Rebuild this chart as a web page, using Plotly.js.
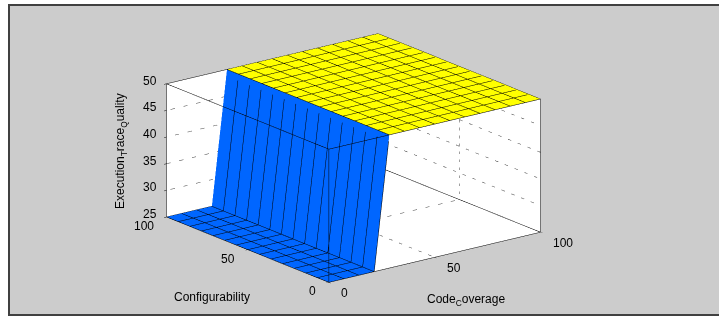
<!DOCTYPE html>
<html>
<head>
<meta charset="utf-8">
<script src="https://cdn.plot.ly/plotly-3.0.1.min.js"></script>
<style>
  html, body { margin: 0; padding: 0; background: #ffffff; width: 719px; height: 320px; overflow: hidden; }
  #frame { position: absolute; left: 8px; top: 4px; width: 711px; height: 312px;
           border-left: 2px solid #404040; border-top: 2px solid #404040; border-bottom: 2px solid #404040;
           box-sizing: border-box; background: #cccccc; }
  #chart { position: absolute; left: 0; top: 0; width: 719px; height: 320px; }
</style>
</head>
<body>
<div id="frame"></div>
<div id="chart"></div>
<script>
// Grid of the fuzzy surface (15 x 15 points, like MATLAB gensurf)
const codeCoverage = [0, 7.143, 14.286, 21.429, 28.571, 35.714, 42.857, 50, 57.143, 64.286, 71.429, 78.571, 85.714, 92.857, 100];
const configurability = [0, 7.143, 14.286, 21.429, 28.571, 35.714, 42.857, 50, 57.143, 64.286, 71.429, 78.571, 85.714, 92.857, 100];
// Execution_Trace_Quality along Code_Coverage (same for every Configurability value)
const qualityByCoverage = [25, 25, 25, 25, 50, 50, 50, 50, 50, 50, 50, 50, 50, 50, 50];

const xTicks = [0, 50, 100];
const yTicks = [0, 50, 100];
const zTicks = [25, 30, 35, 40, 45, 50];
const xRange = [0, 100];
const yRange = [0, 100];
const zRange = [25, 50];

const blue = '#0066ff';
const yellow = '#ffff00';
const FONT = 'Liberation Sans, Arial, sans-serif';

const split = qualityByCoverage.indexOf(50);

function makeSurface(i0, i1, color) {
  const xs = codeCoverage.slice(i0, i1 + 1);
  const zrow = qualityByCoverage.slice(i0, i1 + 1);
  const z = configurability.map(() => zrow.slice());
  const sc = configurability.map(() => zrow.map(() => 0));
  const step = codeCoverage[1] - codeCoverage[0];
  return {
    type: 'surface',
    x: xs, y: configurability, z: z,
    surfacecolor: sc, cmin: 0, cmax: 1,
    colorscale: [[0, color], [1, color]],
    showscale: false,
    hoverinfo: 'skip',
    lighting: { ambient: 1, diffuse: 0, specular: 0, roughness: 1, fresnel: 0 },
    contours: {
      x: { show: true, start: xs[0], end: xs[xs.length - 1], size: step, color: '#000000', width: 1, highlight: false },
      y: { show: true, start: configurability[0], end: configurability[configurability.length - 1], size: step, color: '#000000', width: 1, highlight: false },
      z: { show: false, highlight: false }
    }
  };
}

// Box edges (MATLAB "box on"), built from the axis ranges
const [x0, x1] = xRange, [y0, y1] = yRange, [z0, z1] = zRange;
const boxSegs = [
  [[x0, y0, z0], [x1, y0, z0]], [[x0, y1, z0], [x1, y1, z0]], [[x0, y0, z1], [x1, y0, z1]], [[x0, y1, z1], [x1, y1, z1]],
  [[x0, y0, z0], [x0, y1, z0]], [[x1, y0, z0], [x1, y1, z0]], [[x0, y0, z1], [x0, y1, z1]], [[x1, y0, z1], [x1, y1, z1]],
  [[x0, y0, z0], [x0, y0, z1]], [[x1, y0, z0], [x1, y0, z1]], [[x0, y1, z0], [x0, y1, z1]], [[x1, y1, z0], [x1, y1, z1]]
];
function segTrace(segs, line) {
  const X = [], Y = [], Z = [];
  segs.forEach(([a, b]) => { X.push(a[0], b[0], null); Y.push(a[1], b[1], null); Z.push(a[2], b[2], null); });
  return { type: 'scatter3d', mode: 'lines', x: X, y: Y, z: Z, line: line, hoverinfo: 'skip', showlegend: false, connectgaps: false };
}

// Dotted grid on the back walls (y = max, x = max) and the floor (z = min), at the inner ticks
const gridSegs = [];
const innerX = xTicks.filter(v => v > x0 && v < x1);
const innerY = yTicks.filter(v => v > y0 && v < y1);
const innerZ = zTicks.filter(v => v > z0 && v < z1);
innerX.forEach(v => { gridSegs.push([[v, y1, z0], [v, y1, z1]]); gridSegs.push([[v, y0, z0], [v, y1, z0]]); });
innerY.forEach(v => { gridSegs.push([[x1, v, z0], [x1, v, z1]]); gridSegs.push([[x0, v, z0], [x1, v, z0]]); });
innerZ.forEach(v => { gridSegs.push([[x0, y1, v], [x1, y1, v]]); gridSegs.push([[x1, y0, v], [x1, y1, v]]); });

const traces = [
  makeSurface(0, split, blue),
  makeSurface(split, codeCoverage.length - 1, yellow),
  segTrace(gridSegs, { color: '#404040', width: 1, dash: 'dot' }),
  segTrace(boxSegs, { color: '#000000', width: 1 })
];

const axisCommon = {
  showbackground: true,
  backgroundcolor: '#ffffff',
  showgrid: false,
  showline: false,
  zeroline: false,
  ticks: 'outside',
  ticklen: 3,
  tickcolor: '#000000',
  showticklabels: false,
  showspikes: false,
  title: { text: '' }
};

const r = 2.5;
const eye = { x: -0.579 * r, y: -0.7546 * r, z: 0.309 * r };
const s = 1.71;

const tickFont = { family: FONT, size: 12, color: '#000000' };
const sceneAnn = [];
xTicks.forEach(v => sceneAnn.push({ x: v, y: y0, z: z0, text: String(v), showarrow: false,
  xanchor: 'left', yanchor: 'middle', xshift: 10, yshift: -11, font: tickFont }));
yTicks.forEach(v => sceneAnn.push({ x: x0, y: v, z: z0, text: String(v), showarrow: false,
  xanchor: 'right', yanchor: 'middle', xshift: -11, yshift: -9, font: tickFont }));
zTicks.forEach(v => sceneAnn.push({ x: x0, y: y1, z: v, text: String(v), showarrow: false,
  xanchor: 'right', yanchor: 'middle', xshift: -8, yshift: 3, font: tickFont }));

const layout = {
  width: 719, height: 320,
  margin: { l: 0, r: 0, t: 0, b: 0 },
  paper_bgcolor: 'rgba(0,0,0,0)',
  showlegend: false,
  scene: {
    domain: { x: [0.0, 0.984], y: [0.019, 0.994] },
    bgcolor: 'rgba(0,0,0,0)',
    aspectmode: 'manual',
    aspectratio: { x: s, y: s, z: 0.525 * s },
    camera: { eye: eye, center: { x: 0, y: 0, z: 0 }, up: { x: 0, y: 0, z: 1 }, projection: { type: 'orthographic' } },
    xaxis: Object.assign({}, axisCommon, { range: xRange, tickvals: xTicks }),
    yaxis: Object.assign({}, axisCommon, { range: yRange, tickvals: yTicks }),
    zaxis: Object.assign({}, axisCommon, { range: zRange, tickvals: zTicks }),
    annotations: sceneAnn
  },
  annotations: [
    { text: 'Execution<sub>T</sub>race<sub>Q</sub>uality', x: 121 / 719, y: 1 - 151 / 320, xref: 'paper', yref: 'paper',
      xanchor: 'center', yanchor: 'middle', showarrow: false, textangle: -90, font: { family: FONT, size: 12, color: '#000000' } },
    { text: 'Configurability', x: 212 / 719, y: 1 - 297 / 320, xref: 'paper', yref: 'paper',
      xanchor: 'center', yanchor: 'middle', showarrow: false, font: { family: FONT, size: 12, color: '#000000' } },
    { text: 'Code<sub>C</sub>overage', x: 466 / 719, y: 1 - 300 / 320, xref: 'paper', yref: 'paper',
      xanchor: 'center', yanchor: 'middle', showarrow: false, font: { family: FONT, size: 12, color: '#000000' } }
  ]
};

Plotly.newPlot('chart', traces, layout, { displayModeBar: false });
</script>
</body>
</html>
